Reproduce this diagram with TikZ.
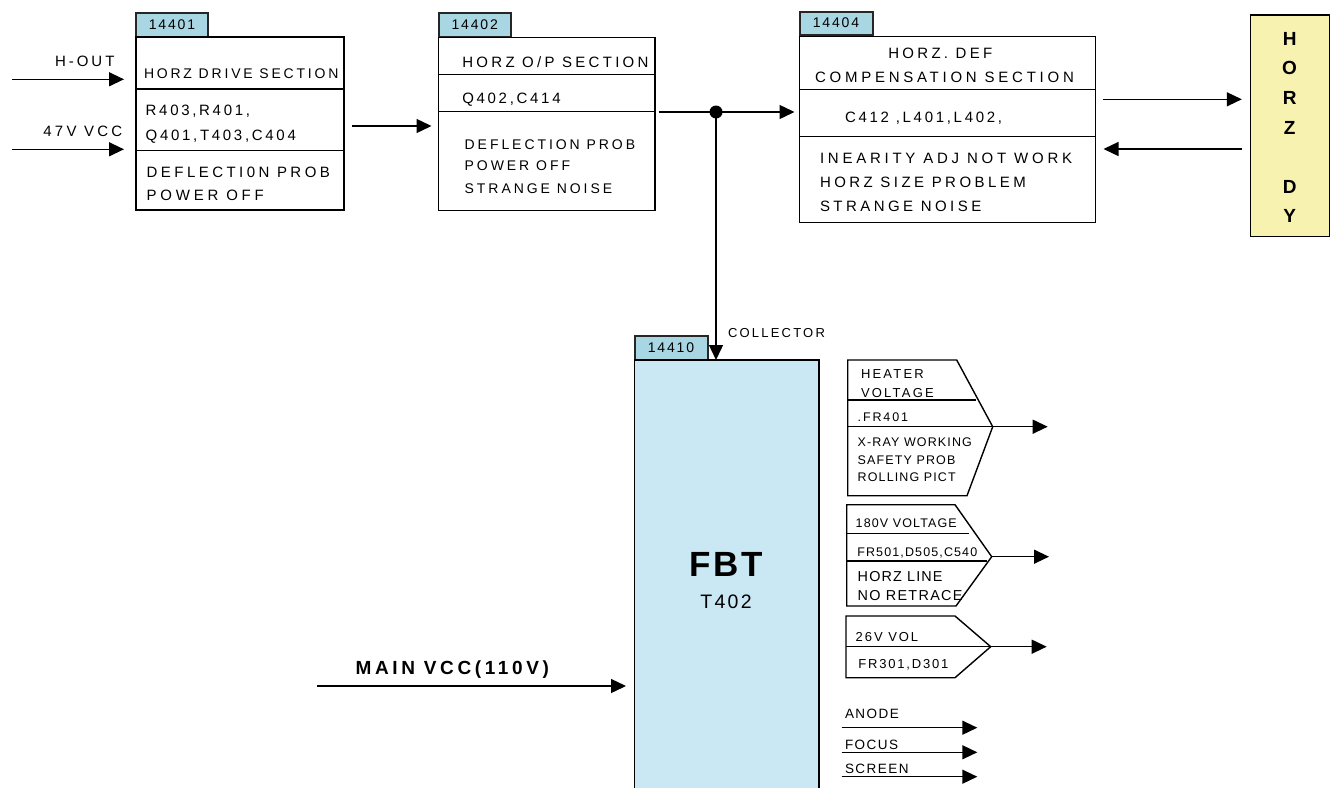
\documentclass[tikz,border=0pt]{standalone}
\usepackage{fontspec}
\setmainfont{Liberation Sans}
\usetikzlibrary{arrows.meta}
\definecolor{tabblue}{HTML}{A9D6E3}
\definecolor{fbtblue}{HTML}{C9E8F4}
\definecolor{dyyellow}{HTML}{F8F2B0}
\newcommand{\tf}[2]{\fontsize{#1}{#1}\selectfont\addfontfeatures{LetterSpace=#2}}
\begin{document}
\begin{tikzpicture}[x=1pt,y=-1pt,
  every node/.style={inner sep=0pt, outer sep=0pt},
  box/.style={draw, line width=1.4pt, anchor=north west},
  tabbox/.style={draw=black!85, line width=2pt, fill=tabblue, anchor=north west},
  lbl/.style={anchor=west, text depth=0pt},
  clbl/.style={text depth=0pt},
  ln/.style={line width=1.4pt},
  arr/.style={line width=1.4pt, -{Triangle[length=15pt,width=14pt]}},
]
\useasboundingbox (0,0) rectangle (1330,787);

% ---------- box 14401 ----------
\node[tabbox, minimum width=72pt, minimum height=24pt] (t1) at (136,13) {};
\node[clbl, font=\tf{14}{13}] (t1l) at (t1.center) {14401};
\node[box, minimum width=208pt, minimum height=173pt] (b1) at (136,37) {};
\draw[ln] (136,89) -- (344,89);
\draw[ln] (136,150.5) -- (344,150.5);
\node[lbl, font=\tf{14}{20}] (b1a) at (144,74) {HORZ DRIVE SECTION};
\node[lbl, font=\tf{15}{18}] (b1b) at (145.7,110.3) {R403,R401,};
\node[lbl, font=\tf{15}{18}] (b1c) at (145.7,135) {Q401,T403,C404};
\node[lbl, font=\tf{15}{23}] (b1d) at (146.7,172.7) {DEFLECTI0N PROB};
\node[lbl, font=\tf{15}{25}] (b1e) at (146.7,195) {POWER OFF};

% inputs
\node[lbl, font=\tf{15}{20}] (hout) at (55,61.7) {H-OUT};
\node[lbl, font=\tf{15}{22}] (v47) at (43.3,131) {47V VCC};
\coordinate (hin) at (12,79.3);
\coordinate (vin) at (12,149.3);
\draw[arr, shorten >=12pt] (hin) -- (hin -| b1.west);
\draw[arr, shorten >=12pt] (vin) -- (vin -| b1.west);

% ---------- box 14402 ----------
\node[tabbox, minimum width=72.5pt, minimum height=23.5pt] (t2) at (438.5,13.3) {};
\node[clbl, font=\tf{14}{13}] (t2l) at (t2.center) {14402};
\node[box, minimum width=216.5pt, minimum height=173pt] (b2) at (438.5,37.5) {};
\draw[ln] (438.5,74.3) -- (655,74.3);
\draw[ln] (438.5,111.7) -- (655,111.7);
\node[lbl, font=\tf{15}{22}] (b2a) at (462.3,62.3) {HORZ O/P SECTION};
\node[lbl, font=\tf{15}{18}] (b2b) at (462.3,98.3) {Q402,C414};
\node[lbl, font=\tf{14}{21}] (b2c) at (464.7,144.3) {DEFLECTION PROB};
\node[lbl, font=\tf{14}{21}] (b2d) at (464.7,165.7) {POWER OFF};
\node[lbl, font=\tf{14}{21}] (b2e) at (464.7,189) {STRANGE NOISE};

\coordinate (c12) at (344,126);
\draw[arr, shorten <=8pt, shorten >=7pt] (c12) -- (c12 -| b2.west);

% ---------- box 14404 ----------
\node[tabbox, minimum width=73pt, minimum height=23pt] (t3) at (799.5,11.5) {};
\node[clbl, font=\tf{14}{13}] (t3l) at (t3.center) {14404};
\node[box, minimum width=296pt, minimum height=186pt] (b3) at (799.5,36.7) {};
\draw[ln] (799.5,89.3) -- (1095.5,89.3);
\draw[ln] (799.5,136.7) -- (1095.5,136.7);
\node[lbl, font=\tf{15}{22}] (b3a) at (888.3,53.3) {HORZ. DEF};
\node[lbl, font=\tf{15}{25}] (b3b) at (815,77.7) {COMPENSATION SECTION};
\node[lbl, font=\tf{15}{18}] (b3c) at (845,117.7) {C412 ,L401,L402,};
\node[lbl, font=\tf{15}{25}] (b3d) at (820,158.3) {INEARITY ADJ NOT WORK};
\node[lbl, font=\tf{15}{23}] (b3e) at (820,182.7) {HORZ SIZE PROBLEM};
\node[lbl, font=\tf{15}{23}] (b3f) at (820,206.7) {STRANGE NOISE};

\coordinate (c23) at (655,112);
\node[circle, fill, minimum size=13pt] (dot) at (716,112) {};
\draw[arr, shorten <=3.5pt, shorten >=5pt] (c23) -- (c23 -| b3.west);

% ---------- HORZ DY ----------
\node[box, fill=dyyellow, minimum width=79pt, minimum height=221.7pt] (dy) at (1250.3,15) {};
\foreach \l/\yy in {H/39.3, O/68.3, R/98.3, Z/127.7, D/186.7, Y/216}
  \node[clbl, font=\bfseries\tf{19}{0}] (dy-\l) at (1289.6,\yy) {\l};
\coordinate (c3a) at (1095.5,99.3);
\coordinate (c3b) at (1250.3,149);
\draw[arr, shorten <=7pt, shorten >=8.5pt] (c3a) -- (c3a -| dy.west);
\draw[arr, shorten <=8pt, shorten >=8pt] (c3b) -- (c3b -| b3.east);

% ---------- FBT ----------
\node[tabbox, minimum width=73pt, minimum height=24.5pt] (t4) at (634.5,335.5) {};
\node[clbl, font=\tf{14}{13}] (t4l) at (t4.center) {14410};
\node[box, fill=fbtblue, minimum width=184.5pt, minimum height=440pt] (fbt) at (634.5,360) {};
\node[clbl, font=\bfseries\tf{35}{7}] (fbtl) at (726,564) {FBT};
\node[clbl, font=\tf{19.5}{12}] (t402) at (726,602) {T402};
\draw[arr] (dot.center) -- (dot.center |- fbt.north);
\node[lbl, font=\tf{13}{17}] (coll) at (728,333.3) {COLLECTOR};

\node[lbl, font=\bfseries\tf{19}{19}] (mvl) at (355.7,667.7) {MAIN VCC(110V)};
\coordinate (mv) at (317,686);
\draw[arr, shorten >=8.5pt] (mv) -- (mv -| fbt.west);

% ---------- pentagon 1 ----------
\draw[ln, line join=miter] (847.7,360) -- (956.7,360) -- (992.7,426.7) coordinate (p1) -- (967,495.7) -- (847.7,495.7) -- cycle;
\draw[ln] (847.7,400) -- (976,400);
\draw[ln] (847.7,426.7) -- (p1);
\node[lbl, font=\tf{13}{17}] (p1a) at (861,374) {HEATER};
\node[lbl, font=\tf{13}{17}] (p1b) at (861,392.7) {VOLTAGE};
\node[lbl, font=\tf{12.5}{15}] (p1c) at (857.7,416.7) {.FR401};
\node[lbl, font=\tf{12.5}{9}] (p1d) at (857.7,442.3) {X-RAY WORKING};
\node[lbl, font=\tf{12.5}{9}] (p1e) at (857.7,460) {SAFETY PROB};
\node[lbl, font=\tf{12.5}{9}] (p1f) at (857.7,477.3) {ROLLING PICT};
\coordinate (p1end) at (1047.7,426.7);
\draw[arr] (p1) -- (p1end);

% ---------- pentagon 2 ----------
\draw[ln, line join=miter] (846.7,504.7) -- (955,504.7) -- (991.7,556.7) coordinate (p2) -- (956,606) -- (846.7,606) -- cycle;
\draw[ln] (846.7,533.3) -- (969,533.3);
\draw[ln] (846.7,561) -- (987,561);
\node[lbl, font=\tf{12.5}{9}] (p2a) at (855.7,523) {180V VOLTAGE};
\node[lbl, font=\tf{12.5}{9}] (p2b) at (857.3,551.7) {FR501,D505,C540};
\node[lbl, font=\tf{14.4}{8}] (p2c) at (857.7,576) {HORZ LINE};
\node[lbl, font=\tf{14.4}{9}] (p2d) at (857.7,595.3) {NO RETRACE};
\coordinate (p2end) at (1049,556.7);
\draw[arr] (p2) -- (p2end);

% ---------- pentagon 3 ----------
\draw[ln, line join=miter] (846,616) -- (955,616) -- (990.7,646.7) coordinate (p3) -- (955,677.7) -- (846,677.7) -- cycle;
\draw[ln] (846,646.7) -- (p3);
\node[lbl, font=\tf{13}{15}] (p3a) at (855.7,636.7) {26V VOL};
\node[lbl, font=\tf{13}{14}] (p3b) at (858.3,664) {FR301,D301};
\coordinate (p3end) at (1046.7,646.7);
\draw[arr] (p3) -- (p3end);

% ---------- anode / focus / screen ----------
\node[lbl, font=\tf{13.5}{11}] (anl) at (845,714) {ANODE};
\node[lbl, font=\tf{13.5}{11}] (fol) at (845,745) {FOCUS};
\node[lbl, font=\tf{13.5}{11}] (scl) at (845,769.2) {SCREEN};
\coordinate (an0) at (841.7,727.7);  \coordinate (an1) at (977.3,727.7);
\coordinate (fo0) at (841.7,752.3);  \coordinate (fo1) at (977.3,752.3);
\coordinate (sc0) at (841.7,776.7);  \coordinate (sc1) at (977.3,776.7);
\draw[arr] (an0) -- (an1);
\draw[arr] (fo0) -- (fo1);
\draw[arr] (sc0) -- (sc1);
\end{tikzpicture}
\end{document}
